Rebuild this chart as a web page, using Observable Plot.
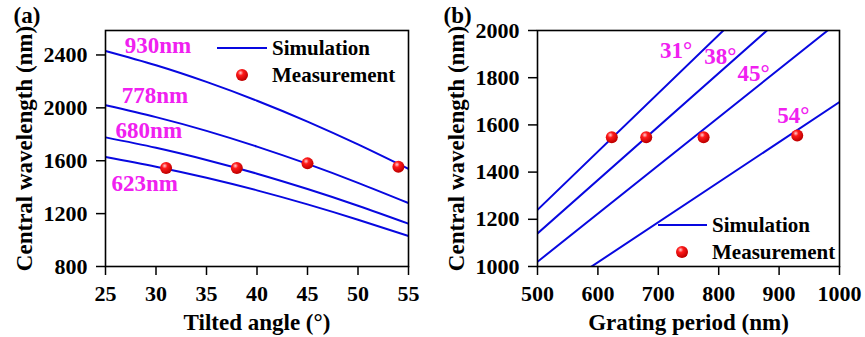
<!DOCTYPE html>
<html>
<head>
<meta charset="utf-8">
<script src="https://cdn.jsdelivr.net/npm/d3@7"></script>
<script src="https://cdn.jsdelivr.net/npm/@observablehq/plot@0.6"></script>
<style>
  html, body { margin: 0; padding: 0; background: #fff; }
  #wrap { position: relative; width: 865px; height: 337px; overflow: hidden; }
  #wrap > div { position: absolute; top: 0; }
  svg { overflow: visible; }
</style>
</head>
<body>
<div id="wrap"><div id="pa" style="left:0"></div><div id="pb" style="left:432px"></div></div>
<script>
// ---------- data: panel (a) ----------
const anglesA = [25, 30, 35, 40, 45, 50, 55];
const periodsA = [930, 778, 680, 623];
const simA930 = [2430, 2322, 2196, 2054, 1896, 1723, 1538];
const simA778 = [2020, 1930, 1826, 1707, 1576, 1433, 1280];
const simA680 = [1777, 1698, 1606, 1502, 1386, 1260, 1124];
const simA623 = [1628, 1555, 1471, 1376, 1270, 1154, 1030];
const measAngles = [31, 38, 45, 54];
const measAValues = [1545, 1545, 1580, 1555];
const labelsA = ["930nm", "778nm", "680nm", "623nm"];
const labelAX = [26.9, 26.6, 26.0, 25.6];
const labelAY = [2470, 2090, 1826, 1426];
const xTicksA = [25, 30, 35, 40, 45, 50, 55];
const yTicksA = [800, 1200, 1600, 2000, 2400];

// ---------- data: panel (b) ----------
const periodsB = [500, 1000];
const anglesB = [31, 38, 45, 54];
const simB31 = [1240, 2475];
const simB38 = [1140, 2272];
const simB45 = [1020, 2040];
const simB54 = [848, 1697];
const measPeriods = [623, 680, 775, 930];
const measBValues = [1548, 1548, 1548, 1555];
const labelsB = ["31°", "38°", "45°", "54°"];
const labelBX = [703, 776, 831, 897];
const labelBY = [1915, 1890, 1818, 1640];
const xTicksB = [500, 600, 700, 800, 900, 1000];
const yTicksB = [1000, 1200, 1400, 1600, 1800, 2000];

const BLUE = "#0808e0";
const MAG = "#f020f0";
const FONT = "'Liberation Serif', 'Times New Roman', serif";

const lineA = [];
[simA930, simA778, simA680, simA623].forEach((s, i) =>
  s.forEach((v, j) => lineA.push({series: periodsA[i], x: anglesA[j], y: v})));
const measA = measAngles.map((a, i) => ({x: a, y: measAValues[i]}));
const labA = labelsA.map((t, i) => ({t, x: labelAX[i], y: labelAY[i]}));

const lineB = [];
[simB31, simB38, simB45, simB54].forEach((s, i) =>
  s.forEach((v, j) => lineB.push({series: anglesB[i], x: periodsB[j], y: v})));
const measB = measPeriods.map((p, i) => ({x: p, y: measBValues[i]}));
const labB = labelsB.map((t, i) => ({t, x: labelBX[i], y: labelBY[i]}));

function panel(opts) {
  const svg = Plot.plot({
    width: opts.width, height: 337,
    marginLeft: opts.ml, marginRight: opts.mr, marginTop: 30, marginBottom: 71,
    style: {fontFamily: FONT, fontSize: "22px", fontWeight: "bold", color: "#000", background: "transparent", overflow: "visible"},
    x: {domain: opts.xd},
    y: {domain: opts.yd},
    marks: [
      Plot.axisX({ticks: opts.xt, tickFormat: d3.format("d"), tickSize: 9, tickPadding: 10, label: null, fontSize: 22, strokeWidth: 1.5}),
      Plot.axisY({ticks: opts.yt, tickFormat: d3.format("d"), tickSize: 9, tickPadding: 9, label: null, fontSize: 22, strokeWidth: 1.5}),
      Plot.line(opts.lines, {x: "x", y: "y", z: "series", stroke: BLUE, strokeWidth: 2, curve: "natural", clip: true}),
      Plot.dot(opts.meas, {x: "x", y: "y", r: 6, fill: `url(#${opts.id}ball)`, stroke: "none"}),
      Plot.text(opts.labs, {x: "x", y: "y", text: "t", fill: MAG, textAnchor: "start", lineAnchor: "middle", fontSize: 23, fontWeight: "bold"}),
      Plot.frame({stroke: "#000", strokeWidth: 1.6}),
      Plot.text([opts.xlabel], {frameAnchor: "bottom", dy: 56, textAnchor: "middle", lineAnchor: "middle", fontSize: 23, fontWeight: "bold"}),
      Plot.text([opts.ylabel], {frameAnchor: "left", dx: -81, rotate: -90, textAnchor: "middle", lineAnchor: "middle", fontSize: 23, fontWeight: "bold"}),
      Plot.text([opts.tag], {frameAnchor: "top-left", dx: opts.tagdx, dy: -15, textAnchor: "start", lineAnchor: "middle", fontSize: 23, fontWeight: "bold"})
    ]
  });
  const s = d3.select(svg);
  s.selectAll("g[aria-label$='tick label'] text").attr("font-size", 22);
  const g = s.insert("defs", ":first-child").append("radialGradient")
    .attr("id", opts.id + "ball").attr("cx", "38%").attr("cy", "32%").attr("r", "65%");
  g.append("stop").attr("offset", "0%").attr("stop-color", "#ffd0d0");
  g.append("stop").attr("offset", "35%").attr("stop-color", "#ff1a1a");
  g.append("stop").attr("offset", "100%").attr("stop-color", "#c00000");
  // legend
  const L = opts.legend;
  const lg = s.append("g").attr("font-family", FONT).attr("font-weight", "bold")
    .attr("font-size", 21).attr("text-anchor", "start").attr("fill", "#000");
  lg.append("line").attr("x1", L.x1).attr("x2", L.x2).attr("y1", L.y1).attr("y2", L.y1)
    .attr("stroke", BLUE).attr("stroke-width", 2);
  lg.append("text").attr("x", L.tx).attr("y", L.y1).attr("dy", "0.35em").text("Simulation");
  lg.append("circle").attr("cx", L.cx).attr("cy", L.y2).attr("r", 6).attr("fill", `url(#${opts.id}ball)`);
  lg.append("text").attr("x", L.tx).attr("y", L.y2).attr("dy", "0.35em").text("Measurement");
  return svg;
}

document.getElementById("pa").appendChild(panel({
  id: "a", width: 432, ml: 105, mr: 24, xd: [25, 55], yd: [800, 2585],
  xt: xTicksA, yt: yTicksA, lines: lineA, meas: measA, labs: labA,
  xlabel: "Tilted angle (°)", ylabel: "Central wavelength (nm)", tag: "(a)", tagdx: -92,
  legend: {x1: 217, x2: 267, y1: 48, y2: 75, cx: 242, tx: 272}
}));
document.getElementById("pb").appendChild(panel({
  id: "b", width: 433, ml: 105, mr: 26, xd: [500, 1000], yd: [1000, 2000],
  xt: xTicksB, yt: yTicksB, lines: lineB, meas: measB, labs: labB,
  xlabel: "Grating period (nm)", ylabel: "Central wavelength (nm)", tag: "(b)", tagdx: -94,
  legend: {x1: 226, x2: 275, y1: 225, y2: 252, cx: 250, tx: 280}
}));
</script>
</body>
</html>
